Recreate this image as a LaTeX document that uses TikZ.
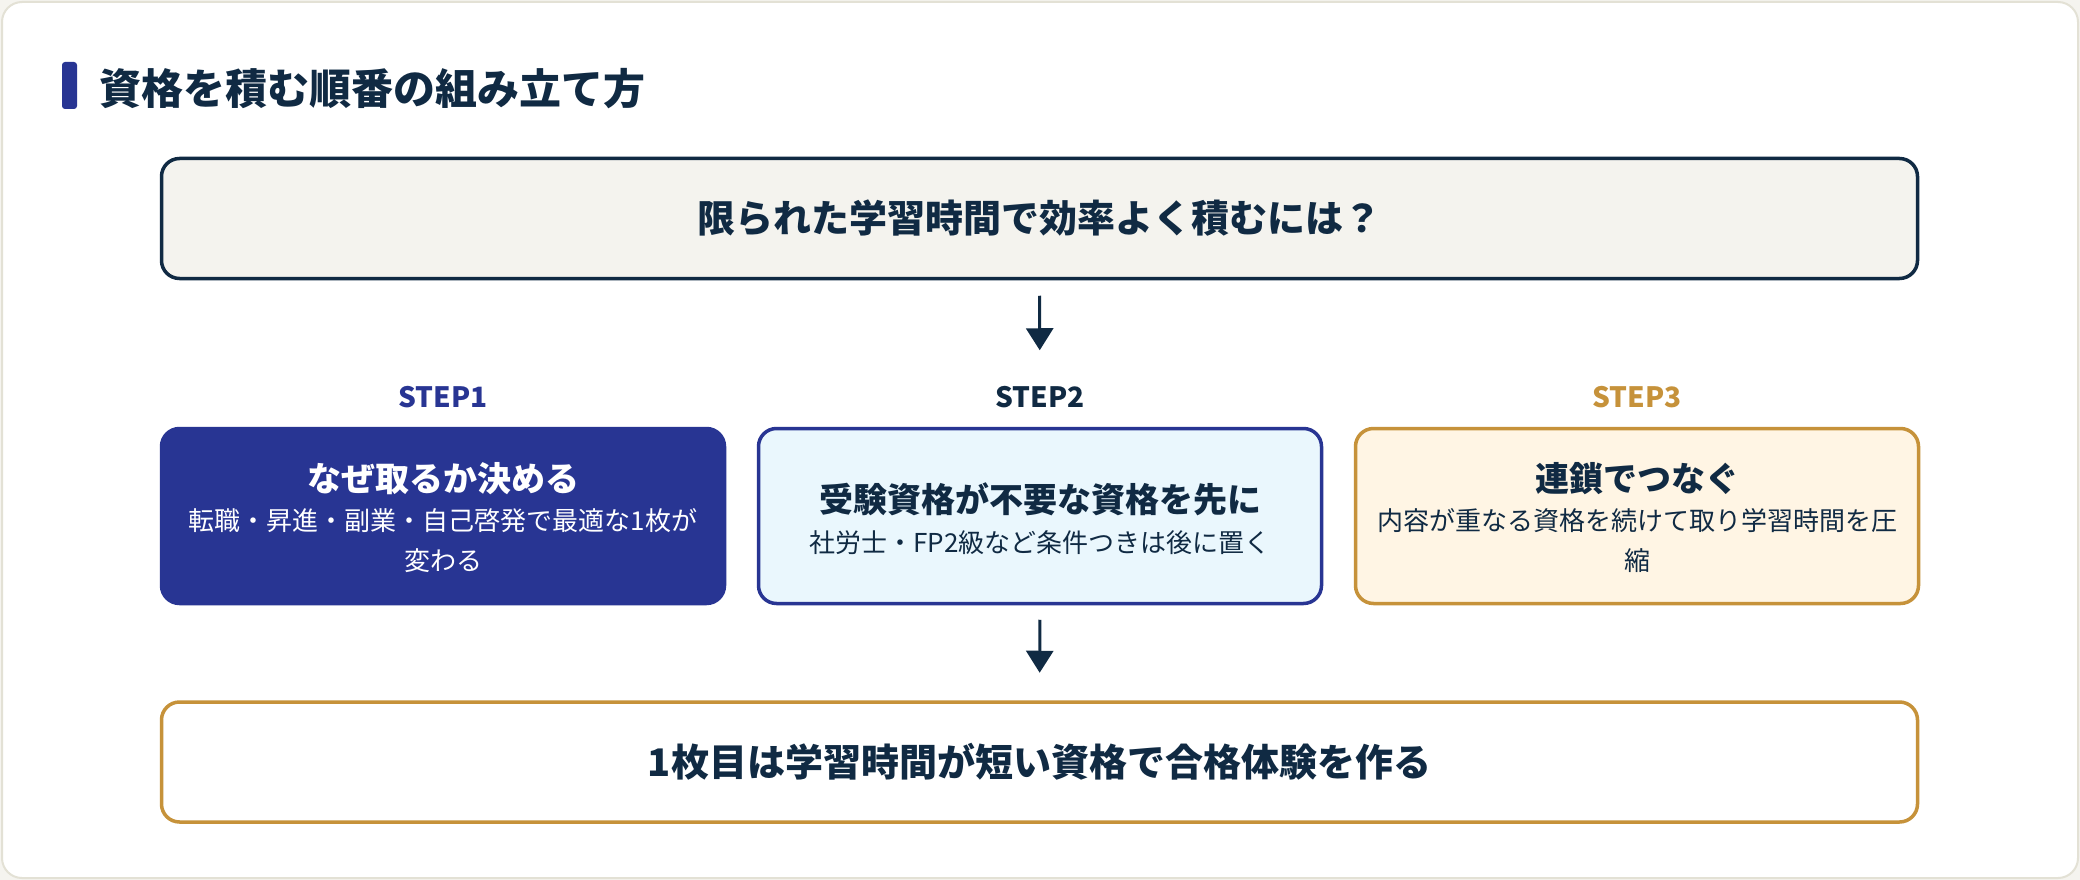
\documentclass[tikz,border=0pt]{standalone}
\usepackage{fontspec}
\setmainfont{Noto Sans CJK JP}
\usetikzlibrary{arrows.meta}
\definecolor{navy}{HTML}{102A43}
\definecolor{indigo}{HTML}{283593}
\definecolor{gold}{HTML}{C6923A}
\definecolor{paper}{HTML}{F4F3EE}
\definecolor{ice}{HTML}{EAF7FD}
\definecolor{cream}{HTML}{FFF5E4}
\definecolor{rim}{HTML}{E3E1D5}
\definecolor{backdrop}{HTML}{F5F4EF}
\tikzset{
	widebox/.style={rounded corners=18pt, line width=3.5pt, minimum width=1756pt, minimum height=120pt,
		inner sep=0pt, text=navy, font=\fontsize{38}{46}\selectfont\bfseries},
	stepbox/.style={rounded corners=18pt, line width=3.5pt, minimum width=563pt, minimum height=175pt, inner sep=0pt},
	steplabel/.style={inner sep=0pt, font=\fontsize{28}{34}\selectfont\bfseries},
	steptitle/.style={inner sep=0pt, text=navy, font=\fontsize{34}{40}\selectfont\bfseries},
	stepnote/.style={inner sep=0pt, align=center, text=navy, font=\fontsize{26}{40}\selectfont},
	flowarrow/.style={draw=navy, line width=3pt, -{Triangle[length=22pt,width=27pt]}}
}
\begin{document}
\begin{tikzpicture}[x=1pt, y=-1pt]
	\useasboundingbox (0,0) rectangle (2080,880);
	\fill[backdrop] (0,0) rectangle (2080,880);
	\draw[rim, fill=white, line width=2pt, rounded corners=20pt] (2,2) rectangle (2078,878);

	\fill[indigo, rounded corners=3pt] (62,62) rectangle (77,109);
	\node[anchor=west, inner sep=0pt, text=navy, font=\fontsize{42}{50}\selectfont\bfseries] (head) at (99,89) {資格を積む順番の組み立て方};

	\node[widebox, draw=navy, fill=paper] (q) at (1039.5,218.5) {限られた学習時間で効率よく積むには？};

	\node[steplabel, text=indigo] (lab1) at (443,397) {STEP1};
	\node[steplabel, text=navy] (lab2) at (1040,397) {STEP2};
	\node[steplabel, text=gold] (lab3) at (1637,397) {STEP3};

	\node[stepbox, draw=indigo, fill=indigo] (s1) at (443,516) {};
	\node[steptitle, text=white] (s1t) at (443,479) {なぜ取るか決める};
	\node[stepnote, text=white] (s1n) at (443,541) {転職・昇進・副業・自己啓発で最適な1枚が\\変わる};

	\node[stepbox, draw=indigo, fill=ice] (s2) at (1040,516) {};
	\node[steptitle] (s2t) at (1040,499) {受験資格が不要な資格を先に};
	\node[stepnote] (s2n) at (1040,543) {社労士・FP2級など条件つきは後に置く};

	\node[stepbox, draw=gold, fill=cream] (s3) at (1637,516) {};
	\node[steptitle] (s3t) at (1637,479) {連鎖でつなぐ};
	\node[stepnote] (s3n) at (1637,541) {内容が重なる資格を続けて取り学習時間を圧\\縮};

	\node[widebox, draw=gold, fill=white] (goal) at (1039.5,762) {1枚目は学習時間が短い資格で合格体験を作る};

	\draw[flowarrow, shorten <=15.5pt, shorten >=76.5pt] (q.south) -- (s2.north);
	\draw[flowarrow, shorten <=14.5pt, shorten >=27.5pt] (s2.south) -- (goal.north);
\end{tikzpicture}
\end{document}
